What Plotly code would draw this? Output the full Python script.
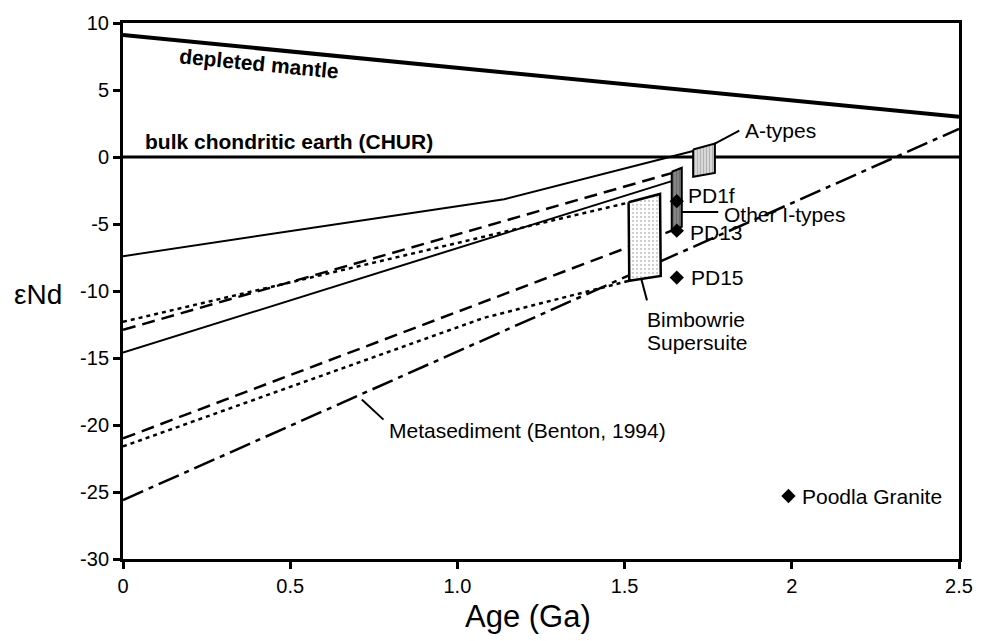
import plotly.graph_objects as go

# Model evolution curves: age (Ga) vs epsilon Nd
dm_age = [0.0, 2.5]
dm_eps = [9.1, 3.0]
chur_age = [0.0, 2.5]
chur_eps = [0.0, 0.0]
upper_solid_age = [0.0, 1.14, 1.705]
upper_solid_eps = [-7.4, -3.15, 0.45]
lower_solid_age = [0.0, 1.641]
lower_solid_eps = [-14.6, -1.8]
upper_dash_age = [0.0, 1.641]
upper_dash_eps = [-12.9, -1.2]
upper_dot_age = [0.0, 1.512]
upper_dot_eps = [-12.3, -3.4]
lower_dash_age = [0.0, 1.641]
lower_dash_eps = [-21.0, -5.5]
lower_dot_age = [0.0, 1.08, 1.512]
lower_dot_eps = [-21.6, -12.0, -9.25]
metased_age = [0.0, 2.5]
metased_eps = [-25.6, 2.1]

# Fields (closed outlines)
a_types_age = [1.705, 1.77, 1.77, 1.705, 1.705]
a_types_eps = [0.56, 1.0, -1.19, -1.48, 0.56]
i_types_age = [1.641, 1.671, 1.671, 1.641, 1.641]
i_types_eps = [-1.1, -0.8, -5.2, -5.45, -1.1]
bimbowrie_age = [1.512, 1.606, 1.608, 1.514, 1.512]
bimbowrie_eps = [-3.38, -2.76, -8.87, -9.24, -3.38]

# Individual samples
sample_names = ["PD1f", "PD13", "PD15", "Poodla Granite"]
sample_age = [1.656, 1.656, 1.656, 1.99]
sample_eps = [-3.3, -5.5, -9.0, -25.3]

# Axis ticks
x_ticks = [0, 0.5, 1.0, 1.5, 2.0, 2.5]
x_tick_text = ["0", "0.5", "1.0", "1.5", "2", "2.5"]
y_ticks = [10, 5, 0, -5, -10, -15, -20, -25, -30]
y_tick_text = ["10", "5", "0", "-5", "-10", "-15", "-20", "-25", "-30"]

FONT = "Liberation Sans, Arial, sans-serif"

fig = go.Figure()


def line(x, y, width=2, dash="solid"):
    fig.add_trace(go.Scatter(x=x, y=y, mode="lines", hoverinfo="skip",
                             line=dict(color="black", width=width, dash=dash)))


line(dm_age, dm_eps, width=4)
line(chur_age, chur_eps, width=3)
line(upper_solid_age, upper_solid_eps, width=2)
line(lower_solid_age, lower_solid_eps, width=2)
line(upper_dash_age, upper_dash_eps, width=2.5, dash="13px,7px")
line(upper_dot_age, upper_dot_eps, width=2.5, dash="4px,4px")
line(lower_dash_age, lower_dash_eps, width=2.5, dash="13px,7px")
line(lower_dot_age, lower_dot_eps, width=2.5, dash="4px,4px")
line(metased_age, metased_eps, width=2.5, dash="22px,6px,5px,6px")

# leader lines for labels
line([0.714, 0.779], [-18.1, -19.6], width=2)
line([1.77, 1.843], [1.0, 1.97], width=2)
line([1.671, 1.78], [-4.1, -4.1], width=2)
line([1.55, 1.567], [-9.1, -10.7], width=2)

# shaded fields
fig.add_trace(go.Scatter(
    x=bimbowrie_age, y=bimbowrie_eps, mode="lines", fill="toself",
    fillcolor="white", hoverinfo="skip",
    fillpattern=dict(shape=".", fgcolor="#9a9a9a", bgcolor="white", size=4, solidity=0.25),
    line=dict(color="black", width=2.5)))
fig.add_trace(go.Scatter(
    x=a_types_age, y=a_types_eps, mode="lines", fill="toself",
    fillcolor="#cfcfcf", hoverinfo="skip",
    fillpattern=dict(shape="|", fgcolor="#8c8c8c", bgcolor="#d8d8d8", size=3, solidity=0.35),
    line=dict(color="black", width=2)))
fig.add_trace(go.Scatter(
    x=i_types_age, y=i_types_eps, mode="lines", fill="toself",
    fillcolor="#7a7a7a", hoverinfo="skip",
    fillpattern=dict(shape="|", fgcolor="#555555", bgcolor="#858585", size=3, solidity=0.35),
    line=dict(color="black", width=2)))

# samples
fig.add_trace(go.Scatter(x=sample_age, y=sample_eps, mode="markers", hoverinfo="skip",
                         marker=dict(symbol="diamond", size=11, color="black")))

ann = []
label_shift = [(9, 6), (11, -2), (12, 0), (12, 0)]
for name, ax_, ay_, (dx, dy) in zip(sample_names, sample_age, sample_eps, label_shift):
    ann.append(dict(x=ax_, y=ay_, text=name, showarrow=False, xanchor="left",
                    yanchor="middle", xshift=dx, yshift=dy,
                    font=dict(family=FONT, size=21, color="black")))


def label(x, y, text, bold=False, angle=0, size=21):
    ann.append(dict(x=x, y=y, text=f"<b>{text}</b>" if bold else text, showarrow=False,
                    xanchor="left", yanchor="middle", textangle=angle, align="left",
                    font=dict(family=FONT, size=size, color="black")))


label(0.16, 6.95, "depleted mantle", bold=True, angle=5.5, size=21)
label(0.059, 1.15, "bulk chondritic earth (CHUR)", bold=True, size=21)
label(1.855, 1.95, "A-types")
label(1.792, -4.28, "Other I-types")
label(1.561, -12.1, "Bimbowrie")
label(1.561, -13.85, "Supersuite")
label(0.788, -20.4, "Metasediment (Benton, 1994)")

ann.append(dict(x=0.485, y=-0.108, xref="paper", yref="paper", text="Age (Ga)",
                showarrow=False, xanchor="center", yanchor="middle",
                font=dict(family=FONT, size=31, color="black")))
ann.append(dict(x=-0.1017, y=0.494, xref="paper", yref="paper", text="εNd",
                showarrow=False, xanchor="center", yanchor="middle",
                font=dict(family=FONT, size=28, color="black")))

axis_common = dict(showline=True, linewidth=3, linecolor="black", mirror=True,
                   ticks="outside", ticklen=7, tickwidth=3, tickcolor="black",
                   showgrid=False, zeroline=False,
                   tickfont=dict(family=FONT, size=20, color="black"))

fig.update_layout(
    width=985, height=641,
    margin=dict(l=123, r=21, t=23, b=82),
    paper_bgcolor="white", plot_bgcolor="white",
    showlegend=False,
    annotations=ann,
    xaxis=dict(range=[0, 2.5], tickvals=x_ticks, ticktext=x_tick_text, **axis_common),
    yaxis=dict(range=[-30, 10], tickvals=y_ticks, ticktext=y_tick_text, **axis_common),
)

fig.write_html("out.html")
